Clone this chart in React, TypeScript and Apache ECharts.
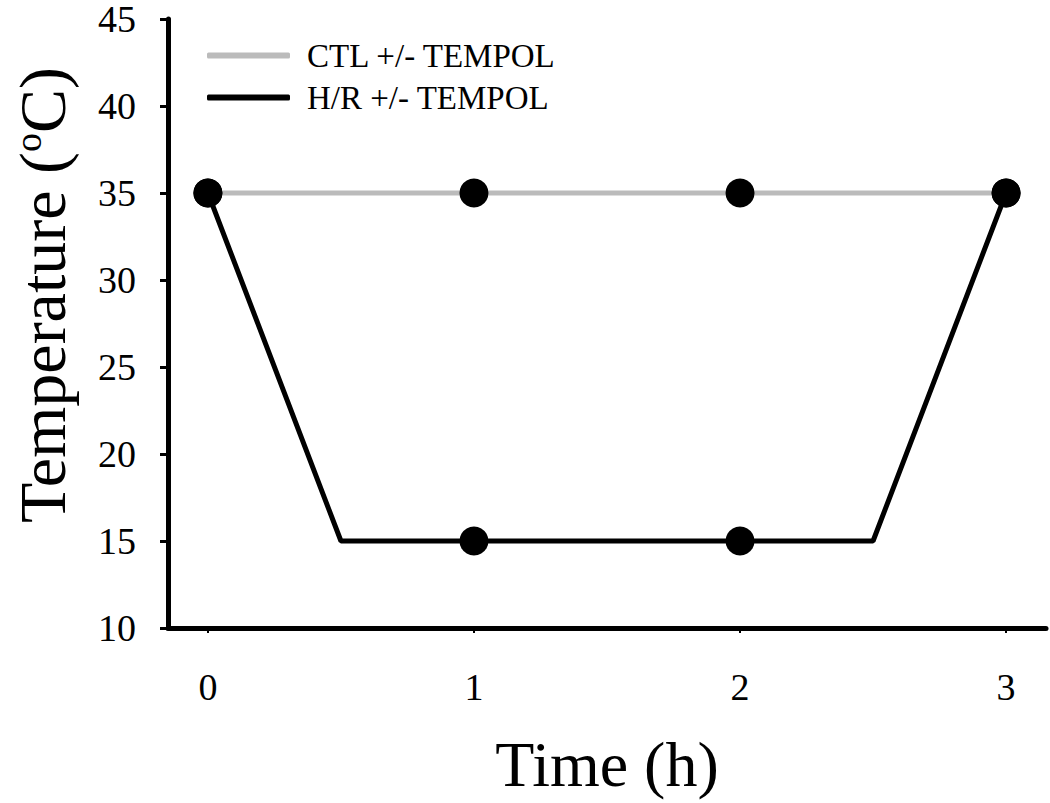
import React, { useEffect, useRef } from "react";
import * as echarts from "echarts";

const xTicks = [0, 1, 2, 3];
const ctlData: [number, number][] = [
  [0, 35],
  [1, 35],
  [2, 35],
  [3, 35],
];
const hrX = [0, 0.5, 1, 2, 2.5, 3];
const hrY = [35, 15, 15, 15, 15, 35];
const hrMarked = [true, false, true, true, false, true];
const seriesNames = ["CTL +/- TEMPOL", "H/R +/- TEMPOL"];

const FONT = "'Liberation Serif', 'Times New Roman', serif";

export default function App() {
  const ref = useRef<HTMLDivElement>(null);
  useEffect(() => {
    if (!ref.current) return;
    const chart = echarts.init(ref.current, undefined, { renderer: "svg" });
    chart.setOption({
      animation: false,
      backgroundColor: "#ffffff",
      grid: { left: 168, right: 4, top: 14, bottom: 175, containLabel: false },
      legend: {
        orient: "vertical",
        left: 202,
        top: 34,
        itemWidth: 83,
        itemHeight: 6,
        itemGap: 9,
        icon: "roundRect",
        textStyle: {
          fontFamily: FONT,
          fontSize: 33,
          color: "#000",
          lineHeight: 33,
          padding: [0, 0, 0, 12],
        },
        data: [
          { name: seriesNames[0], itemStyle: { color: "#bbbbbb" } },
          { name: seriesNames[1], itemStyle: { color: "#000000" } },
        ],
      },
      xAxis: {
        type: "value",
        min: -0.15,
        max: 3.15,
        splitLine: { show: false },
        axisLine: { show: true, onZero: false, lineStyle: { color: "#000", width: 5 } },
        axisTick: {
          show: true,
          length: 5,
          lineStyle: { color: "#000", width: 2 },
          customValues: xTicks,
        },
        axisLabel: {
          customValues: xTicks,
          fontFamily: FONT,
          fontSize: 38,
          color: "#000",
          margin: 40,
        },
        name: "Time (h)",
        nameLocation: "middle",
        nameGap: 104,
        nameTextStyle: { fontFamily: FONT, fontSize: 64, color: "#000" },
      },
      yAxis: {
        type: "value",
        min: 10,
        max: 45,
        interval: 5,
        splitLine: { show: false },
        axisLine: { show: true, onZero: false, lineStyle: { color: "#000", width: 5 } },
        axisTick: { show: true, length: 8, lineStyle: { color: "#000", width: 3 } },
        axisLabel: {
          fontFamily: FONT,
          fontSize: 38,
          color: "#000",
          margin: 32,
        },
      },
      graphic: [
        {
          type: "text",
          x: 42,
          y: 295,
          rotation: Math.PI / 2,
          style: {
            text: "Temperature ({sup|o}C)",
            fontFamily: FONT,
            fontSize: 66,
            fill: "#000",
            align: "center",
            verticalAlign: "middle",
            rich: {
              sup: { fontFamily: FONT, fontSize: 38, fill: "#000", verticalAlign: "top", padding: [0, 0, 26, 0] },
            },
          },
        },
      ],
      series: [
        {
          name: seriesNames[0],
          type: "line",
          data: ctlData,
          symbol: "circle",
          symbolSize: 29,
          itemStyle: { color: "#000" },
          lineStyle: { color: "#bbbbbb", width: 5 },
          z: 2,
        },
        {
          name: seriesNames[1],
          type: "line",
          data: hrX.map((x, i) => ({
            value: [x, hrY[i]],
            symbol: hrMarked[i] ? "circle" : "none",
          })),
          symbol: "circle",
          symbolSize: 29,
          itemStyle: { color: "#000" },
          lineStyle: { color: "#000", width: 5 },
          z: 3,
        },
      ],
    });
    return () => chart.dispose();
  }, []);
  return <div ref={ref} style={{ width: 1050, height: 803, position: "absolute", left: 0, top: 0 }} />;
}
